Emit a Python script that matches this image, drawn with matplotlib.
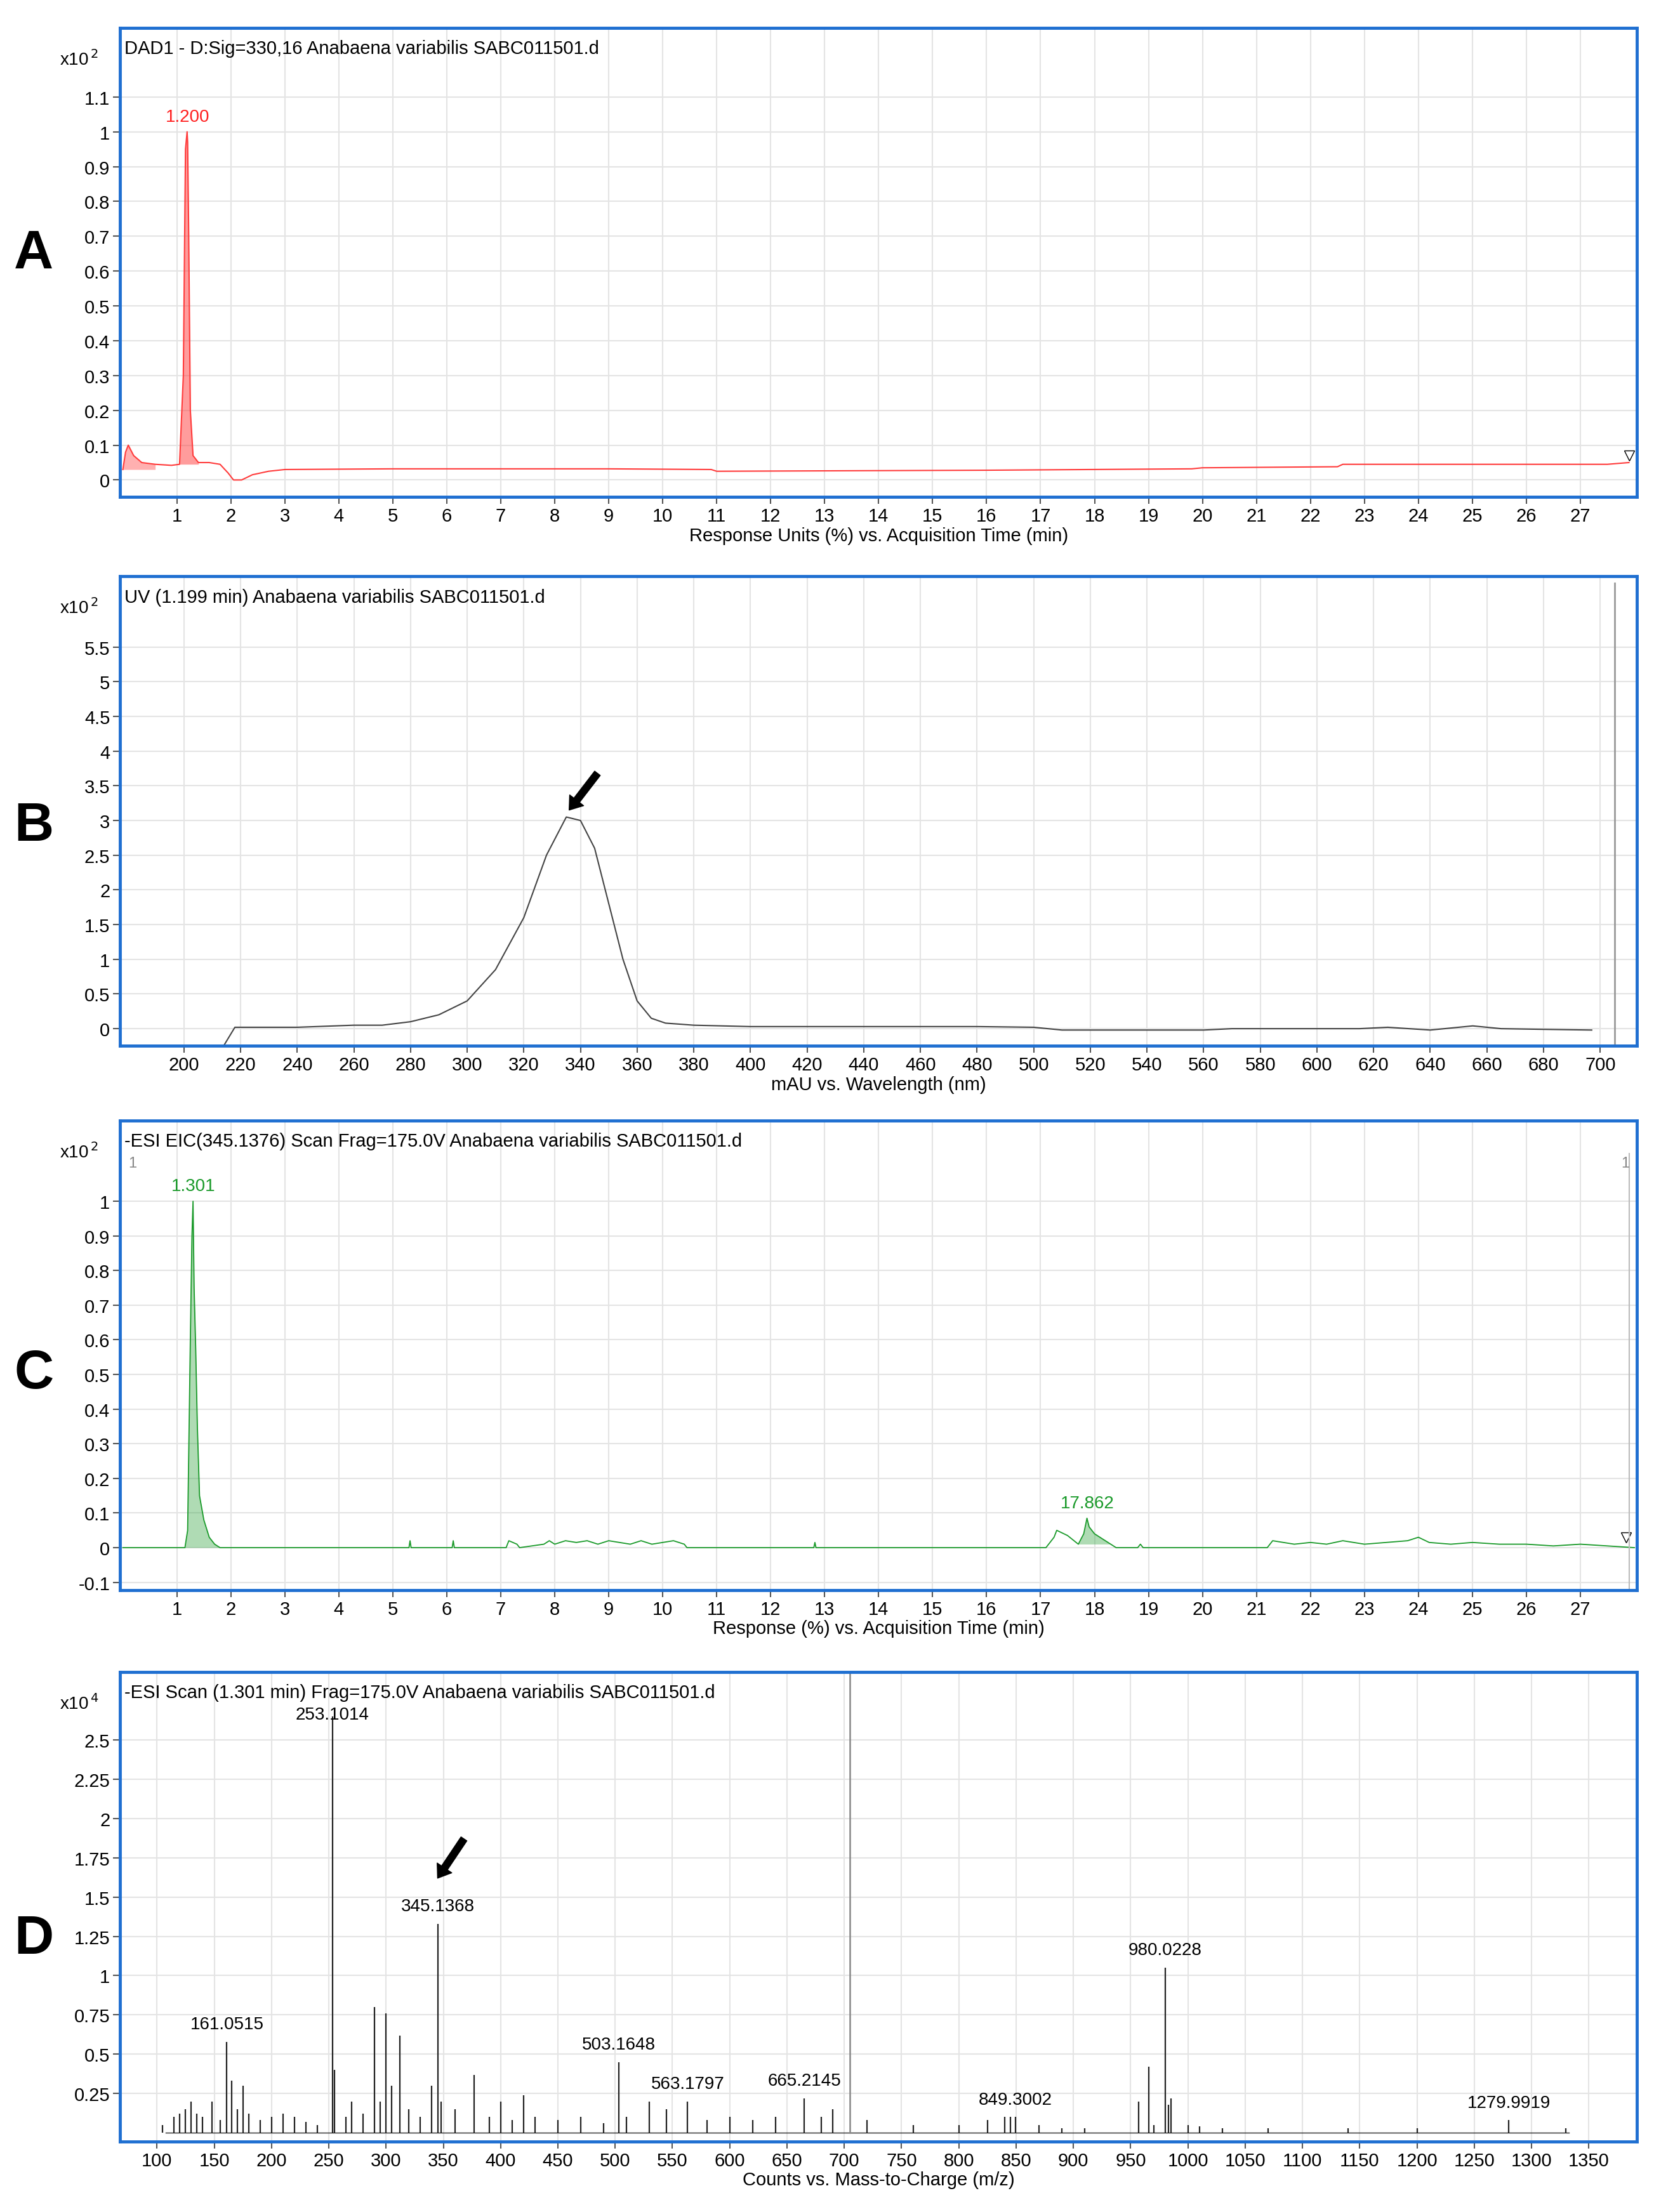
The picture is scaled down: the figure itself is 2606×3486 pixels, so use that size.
import matplotlib
matplotlib.use("Agg")
import matplotlib.pyplot as plt
import numpy as np

plt.rcParams['font.family'] = ['Liberation Sans', 'DejaVu Sans']

# ---------------- data ----------------
# Panel A: DAD chromatogram (x10^2)
a_time = [0.0, 0.05, 0.1, 0.2, 0.35, 0.6, 0.9, 1.05, 1.12, 1.16, 1.19, 1.20, 1.22, 1.25, 1.3, 1.4,
          1.6, 1.8, 1.95, 2.05, 2.2, 2.4, 2.7, 3.0, 5.0, 9.0, 10.9, 11.0, 16.0, 19.8, 20.0, 22.5, 22.6, 27.5, 27.9]
a_resp = [0.03, 0.08, 0.1, 0.07, 0.05, 0.045, 0.042, 0.045, 0.3, 0.95, 1.0, 0.97, 0.7, 0.2, 0.07, 0.05,
          0.05, 0.045, 0.02, 0.0, 0.0, 0.015, 0.025, 0.03, 0.032, 0.032, 0.03, 0.025, 0.028, 0.032, 0.035, 0.038, 0.045, 0.045, 0.05]
a_peak_time, a_peak_label = 1.2, "1.200"

# Panel B: UV spectrum (x10^2)
b_wl = [190, 214, 218, 240, 260, 270, 280, 290, 300, 310, 320, 328, 335, 340, 345, 350, 355, 360, 365,
        370, 380, 400, 440, 480, 500, 510, 540, 560, 570, 600, 615, 625, 640, 650, 655, 665, 680, 697]
b_abs = [-0.25, -0.25, 0.02, 0.02, 0.05, 0.05, 0.1, 0.2, 0.4, 0.85, 1.6, 2.5, 3.05, 3.0, 2.6, 1.8, 1.0, 0.4, 0.15,
         0.08, 0.05, 0.03, 0.03, 0.03, 0.02, -0.02, -0.02, -0.02, 0.0, 0.0, 0.0, 0.02, -0.02, 0.02, 0.04, 0.0, -0.01, -0.02]

# Panel C: EIC (x10^2)
c_time = [0.0, 1.15, 1.2, 1.25, 1.28, 1.30, 1.32, 1.35, 1.38, 1.42, 1.5, 1.6, 1.7, 1.8, 5.3, 5.32, 5.34, 6.1, 6.12, 6.14,
          7.1, 7.15, 7.3, 7.35, 7.8, 7.9, 8.0, 8.2, 8.4, 8.6, 8.8, 9.0, 9.2, 9.4, 9.6, 9.8, 10.0, 10.2, 10.4, 10.45,
          12.8, 12.82, 12.84, 17.1, 17.25, 17.3, 17.5, 17.7, 17.8, 17.86, 17.9, 18.0, 18.2, 18.3, 18.4, 18.8, 18.85, 18.9,
          21.2, 21.3, 21.5, 21.7, 22.0, 22.3, 22.6, 23.0, 23.4, 23.8, 24.0, 24.2, 24.6, 25.0, 25.5, 26.0, 26.5, 27.0, 27.5, 28.0]
c_resp = [0.0, 0.0, 0.05, 0.6, 0.9, 1.0, 0.75, 0.57, 0.35, 0.15, 0.08, 0.03, 0.01, 0.0, 0.0, 0.02, 0.0, 0.0, 0.02, 0.0,
          0.0, 0.02, 0.01, 0.0, 0.01, 0.02, 0.01, 0.02, 0.015, 0.02, 0.01, 0.02, 0.015, 0.01, 0.02, 0.01, 0.015, 0.02, 0.01, 0.0,
          0.0, 0.015, 0.0, 0.0, 0.03, 0.05, 0.035, 0.01, 0.04, 0.085, 0.06, 0.04, 0.02, 0.01, 0.0, 0.0, 0.01, 0.0,
          0.0, 0.02, 0.015, 0.01, 0.015, 0.01, 0.02, 0.01, 0.015, 0.02, 0.03, 0.015, 0.01, 0.015, 0.01, 0.01, 0.005, 0.01, 0.005, 0.0]
c_labels = [(1.301, 1.0, "1.301"), (17.862, 0.085, "17.862")]

# Panel D: mass spectrum (x10^4)
d_mz = [105, 115, 120, 125, 130, 135, 140, 148, 155, 161.0515, 165, 170, 175, 180, 190, 200, 210, 220, 230, 240,
        253.1014, 255, 265, 270, 280, 290, 295, 300, 305, 312, 320, 330, 340, 345.1368, 348, 360, 377, 390, 400, 410,
        420, 430, 450, 470, 490, 503.1648, 510, 530, 545, 563.1797, 580, 600, 620, 640, 665.2145, 680, 690, 720,
        760, 800, 825, 840, 845, 849.3002, 870, 890, 910, 957, 966, 970, 980.0228, 983, 985, 1000, 1010, 1030,
        1070, 1140, 1200, 1279.9919, 1330]
d_int = [0.05, 0.1, 0.12, 0.15, 0.2, 0.12, 0.1, 0.2, 0.08, 0.58, 0.33, 0.15, 0.3, 0.12, 0.08, 0.1, 0.12, 0.1, 0.07, 0.05,
         2.65, 0.4, 0.1, 0.2, 0.12, 0.8, 0.2, 0.76, 0.3, 0.62, 0.15, 0.1, 0.3, 1.33, 0.2, 0.15, 0.37, 0.1, 0.2, 0.08,
         0.24, 0.1, 0.08, 0.1, 0.06, 0.45, 0.1, 0.2, 0.15, 0.2, 0.08, 0.1, 0.08, 0.1, 0.22, 0.1, 0.15, 0.08,
         0.05, 0.05, 0.08, 0.1, 0.1, 0.1, 0.05, 0.03, 0.03, 0.2, 0.42, 0.05, 1.05, 0.18, 0.22, 0.05, 0.04, 0.03,
         0.03, 0.03, 0.03, 0.08, 0.03]
d_labels = [161.0515, 253.1014, 345.1368, 503.1648, 563.1797, 665.2145, 849.3002, 980.0228, 1279.9919]
d_marker_mz = 705

# ---------------- layout ----------------
W, H = 1170.0, 1565.0
fig = plt.figure(figsize=(26.06, 34.87), dpi=100)
BLUE = '#1f6fd1'
FS = 21

def make_ax(y0, y1, xlim, ylim, xticks, yticks, ytl, xlabel, title, letter, ly):
    ax = fig.add_axes([85 / W, 1 - y1 / H, (1158 - 85) / W, (y1 - y0) / H])
    ax.set_xlim(*xlim); ax.set_ylim(*ylim)
    ax.set_xticks(xticks); ax.set_yticks(yticks)
    ax.set_yticklabels(ytl)
    ax.grid(True, color='#e4e4e4', lw=1.5)
    ax.set_axisbelow(True)
    for s in ax.spines.values():
        s.set_color(BLUE); s.set_linewidth(3.5)
    ax.tick_params(labelsize=FS, length=8, color='#555555', width=1.5)
    ax.set_xlabel(xlabel, fontsize=FS, labelpad=2)
    ax.text(0.003, 0.975, title, transform=ax.transAxes, fontsize=FS, va='top', ha='left')
    fig.text(42 / W, 1 - (y0 + 22) / H, r'x10$^{\,2}$' if letter != 'D' else r'x10$^{\,4}$',
             fontsize=FS - 1, ha='left', va='center')
    fig.text(24 / W, 1 - ly / H, letter, fontsize=62, fontweight='bold', ha='center', va='center')
    return ax

def fmt(v):
    return '%g' % v

# A
ya = np.round(np.arange(0, 1.11, 0.1), 2)
axA = make_ax(20, 352, (-0.05, 28.05), (-0.049, 1.299), list(range(1, 28)), ya, [fmt(v) for v in ya],
              'Response Units (%) vs. Acquisition Time (min)',
              'DAD1 - D:Sig=330,16 Anabaena variabilis SABC011501.d', 'A', 180)
axA.plot(a_time, a_resp, color='#ff3b3b', lw=1.5)
at = np.array(a_time); ar = np.array(a_resp)
m = (at >= 1.05) & (at <= 1.4)
axA.fill_between(at[m], ar[m], 0.045, color='#ff3b3b', alpha=0.5, lw=0)
axA.fill_between(at[at <= 0.6], ar[at <= 0.6], 0.03, color='#ff3b3b', alpha=0.4, lw=0)
axA.text(a_peak_time, 1.02, a_peak_label, color='#ff2020', fontsize=FS - 1, ha='center', va='bottom')
axA.plot([27.9], [0.07], marker='v', mfc='white', mec='black', ms=12, ls='none')

# B
yb = np.arange(0, 5.6, 0.5)
axB = make_ax(408, 740, (177.5, 713), (-0.244, 6.52), list(range(200, 701, 20)), yb, [fmt(v) for v in yb],
              'mAU vs. Wavelength (nm)', 'UV (1.199 min) Anabaena variabilis SABC011501.d', 'B', 585)
axB.plot(b_wl, b_abs, color='#444444', lw=1.5)
axB.axvline(705, ymin=0.0, ymax=0.985, color='#999999', lw=2)
axB.annotate('', xy=(336, 3.15), xytext=(346, 3.68),
             arrowprops=dict(facecolor='black', edgecolor='black', width=8, headwidth=20, headlength=14))

# C
yc = np.round(np.arange(-0.1, 1.01, 0.1), 2)
axC = make_ax(793, 1125, (-0.05, 28.05), (-0.122, 1.233), list(range(1, 28)), yc, [fmt(v) for v in yc],
              'Response (%) vs. Acquisition Time (min)',
              '-ESI EIC(345.1376) Scan Frag=175.0V Anabaena variabilis SABC011501.d', 'C', 972)
GREEN = '#1a9a2a'
axC.plot(c_time, c_resp, color=GREEN, lw=1.3)
ct = np.array(c_time); cr = np.array(c_resp)
m = (ct >= 1.15) & (ct <= 1.8)
axC.fill_between(ct[m], cr[m], 0, color=GREEN, alpha=0.35, lw=0)
m = (ct >= 17.7) & (ct <= 18.3)
axC.fill_between(ct[m], cr[m], 0.01, color=GREEN, alpha=0.35, lw=0)
for x, y, s in c_labels:
    axC.text(x, y + 0.02, s, color=GREEN, fontsize=FS - 1, ha='center', va='bottom')
axC.plot([27.85], [0.03], marker='v', mfc='white', mec='black', ms=12, ls='none')
axC.axvline(27.9, color='#bbbbbb', lw=1.5, ymax=0.93)
axC.text(0.1, 1.13, '1', color='#888888', fontsize=FS - 4, va='top')
axC.text(27.75, 1.13, '1', color='#888888', fontsize=FS - 4, va='top')

# D
yd = [0.25, 0.5, 0.75, 1, 1.25, 1.5, 1.75, 2, 2.25, 2.5]
axD = make_ax(1183, 1515, (67.9, 1392), (-0.054, 2.932), list(range(100, 1351, 50)), yd, [fmt(v) for v in yd],
              'Counts vs. Mass-to-Charge (m/z)',
              '-ESI Scan (1.301 min) Frag=175.0V Anabaena variabilis SABC011501.d', 'D', 1372)
axD.vlines(d_mz, 0, d_int, color='#222222', lw=1.6)
axD.axhline(0, color='#222222', lw=1.0, xmin=0.03, xmax=0.955)
axD.axvline(d_marker_mz, ymin=0.018, ymax=1.0, color='#888888', lw=1.8)
for mz in d_labels:
    i = d_mz.index(mz)
    y = min(d_int[i], 2.55)
    axD.text(mz, y + 0.06, '%.4f' % mz, fontsize=FS - 1, ha='center', va='bottom')
axD.annotate('', xy=(345, 1.62), xytext=(368, 1.87),
             arrowprops=dict(facecolor='black', edgecolor='black', width=8, headwidth=20, headlength=14))

fig.savefig('out.png', dpi=100, facecolor='white')
